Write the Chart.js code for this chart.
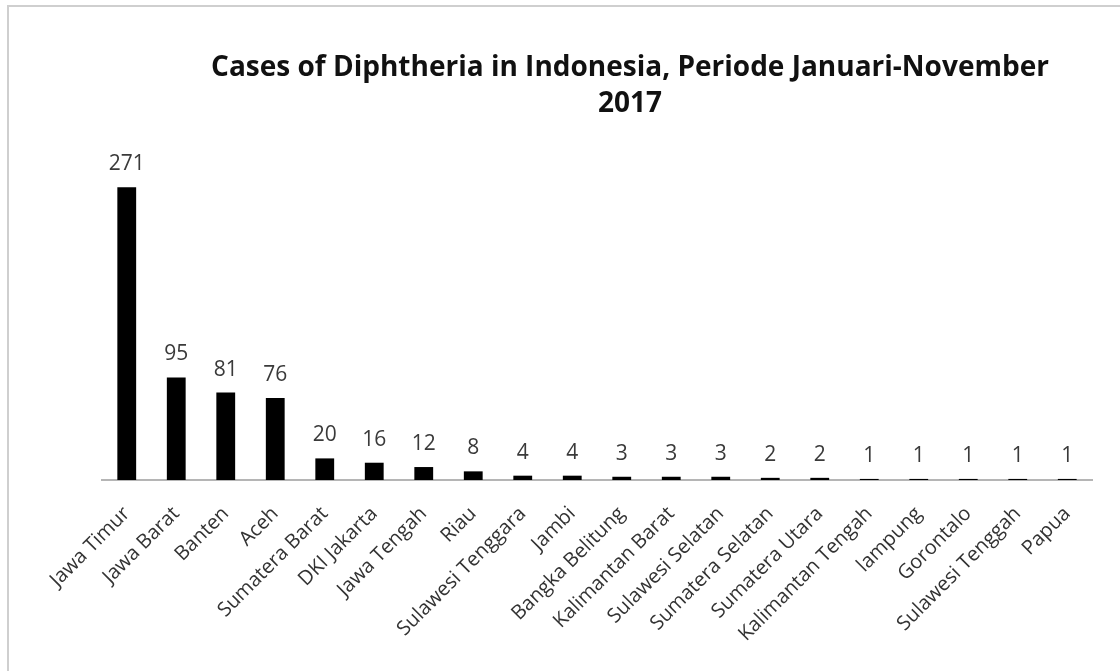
<!DOCTYPE html>
<html>
<head>
<meta charset="utf-8">
<script src="https://cdn.jsdelivr.net/npm/chart.js@4/dist/chart.umd.min.js"></script>
<style>
  html, body { margin: 0; padding: 0; background: #fff; }
  #wrap { width: 1120px; height: 671px; position: relative; }
</style>
</head>
<body>
<div id="wrap"><canvas id="grafica"></canvas></div>
<script>
// datos
const provinsi = ['Jawa Timur', 'Jawa Barat', 'Banten', 'Aceh', 'Sumatera Barat', 'DKI Jakarta',
  'Jawa Tengah', 'Riau', 'Sulawesi Tenggara', 'Jambi', 'Bangka Belitung', 'Kalimantan Barat',
  'Sulawesi Selatan', 'Sumatera Selatan', 'Sumatera Utara', 'Kalimantan Tengah', 'lampung',
  'Gorontalo', 'Sulawesi Tenggah', 'Papua'];
const kasus = [271, 95, 81, 76, 20, 16, 12, 8, 4, 4, 3, 3, 3, 2, 2, 1, 1, 1, 1, 1];
const judul = ['Cases of Diphtheria in Indonesia, Periode Januari-November', '2017'];

const FUENTE = '"Open Sans", sans-serif';

// marco gris del screenshot
const marco = {
  id: 'marco',
  beforeDraw(chart) {
    const ctx = chart.ctx;
    ctx.save();
    ctx.strokeStyle = '#cfcfcf';
    ctx.lineWidth = 2;
    ctx.beginPath();
    ctx.moveTo(8, chart.height);
    ctx.lineTo(8, 6);
    ctx.lineTo(chart.width, 6);
    ctx.stroke();
    ctx.restore();
  }
};

// titulo (centrado como en el original, no sobre el area del grafico)
const titulo = {
  id: 'titulo',
  afterDraw(chart) {
    const ctx = chart.ctx;
    ctx.save();
    ctx.font = 'bold 28px ' + FUENTE;
    ctx.fillStyle = '#111';
    ctx.textAlign = 'center';
    ctx.textBaseline = 'middle';
    ctx.fillText(judul[0], 630, 68);
    ctx.fillText(judul[1], 630, 104);
    ctx.restore();
  }
};

// numeros encima de cada barra
const etiquetas = {
  id: 'etiquetas',
  afterDatasetsDraw(chart) {
    const ctx = chart.ctx;
    const meta = chart.getDatasetMeta(0);
    ctx.save();
    ctx.font = '21px ' + FUENTE;
    ctx.fillStyle = '#3a3a3a';
    ctx.textAlign = 'center';
    ctx.textBaseline = 'alphabetic';
    meta.data.forEach((bar, i) => {
      ctx.fillText(kasus[i], bar.x, bar.y - 17);
    });
    ctx.restore();
  }
};

const ctx = document.getElementById('grafica').getContext('2d');
new Chart(ctx, {
  type: 'bar',
  data: {
    labels: provinsi,
    datasets: [{
      data: kasus,
      backgroundColor: '#000',
      borderWidth: 0,
      barPercentage: 0.38,
      categoryPercentage: 1
    }]
  },
  options: {
    responsive: true,
    maintainAspectRatio: false,
    animation: false,
    layout: { padding: { left: 102, right: 28, top: 156, bottom: 0 } },
    scales: {
      x: {
        grid: { display: false },
        border: { display: true, color: '#b5b5b5', width: 2 },
        ticks: {
          color: '#333',
          font: { family: FUENTE, size: 20 },
          maxRotation: 45,
          minRotation: 45,
          autoSkip: false,
          padding: 14
        },
        afterFit(scale) { scale.height = 191; }
      },
      y: {
        display: false,
        min: 0,
        max: 300
      }
    },
    plugins: {
      legend: { display: false },
      tooltip: { enabled: false },
      title: { display: false }
    }
  },
  plugins: [marco, titulo, etiquetas]
});
</script>
</body>
</html>
